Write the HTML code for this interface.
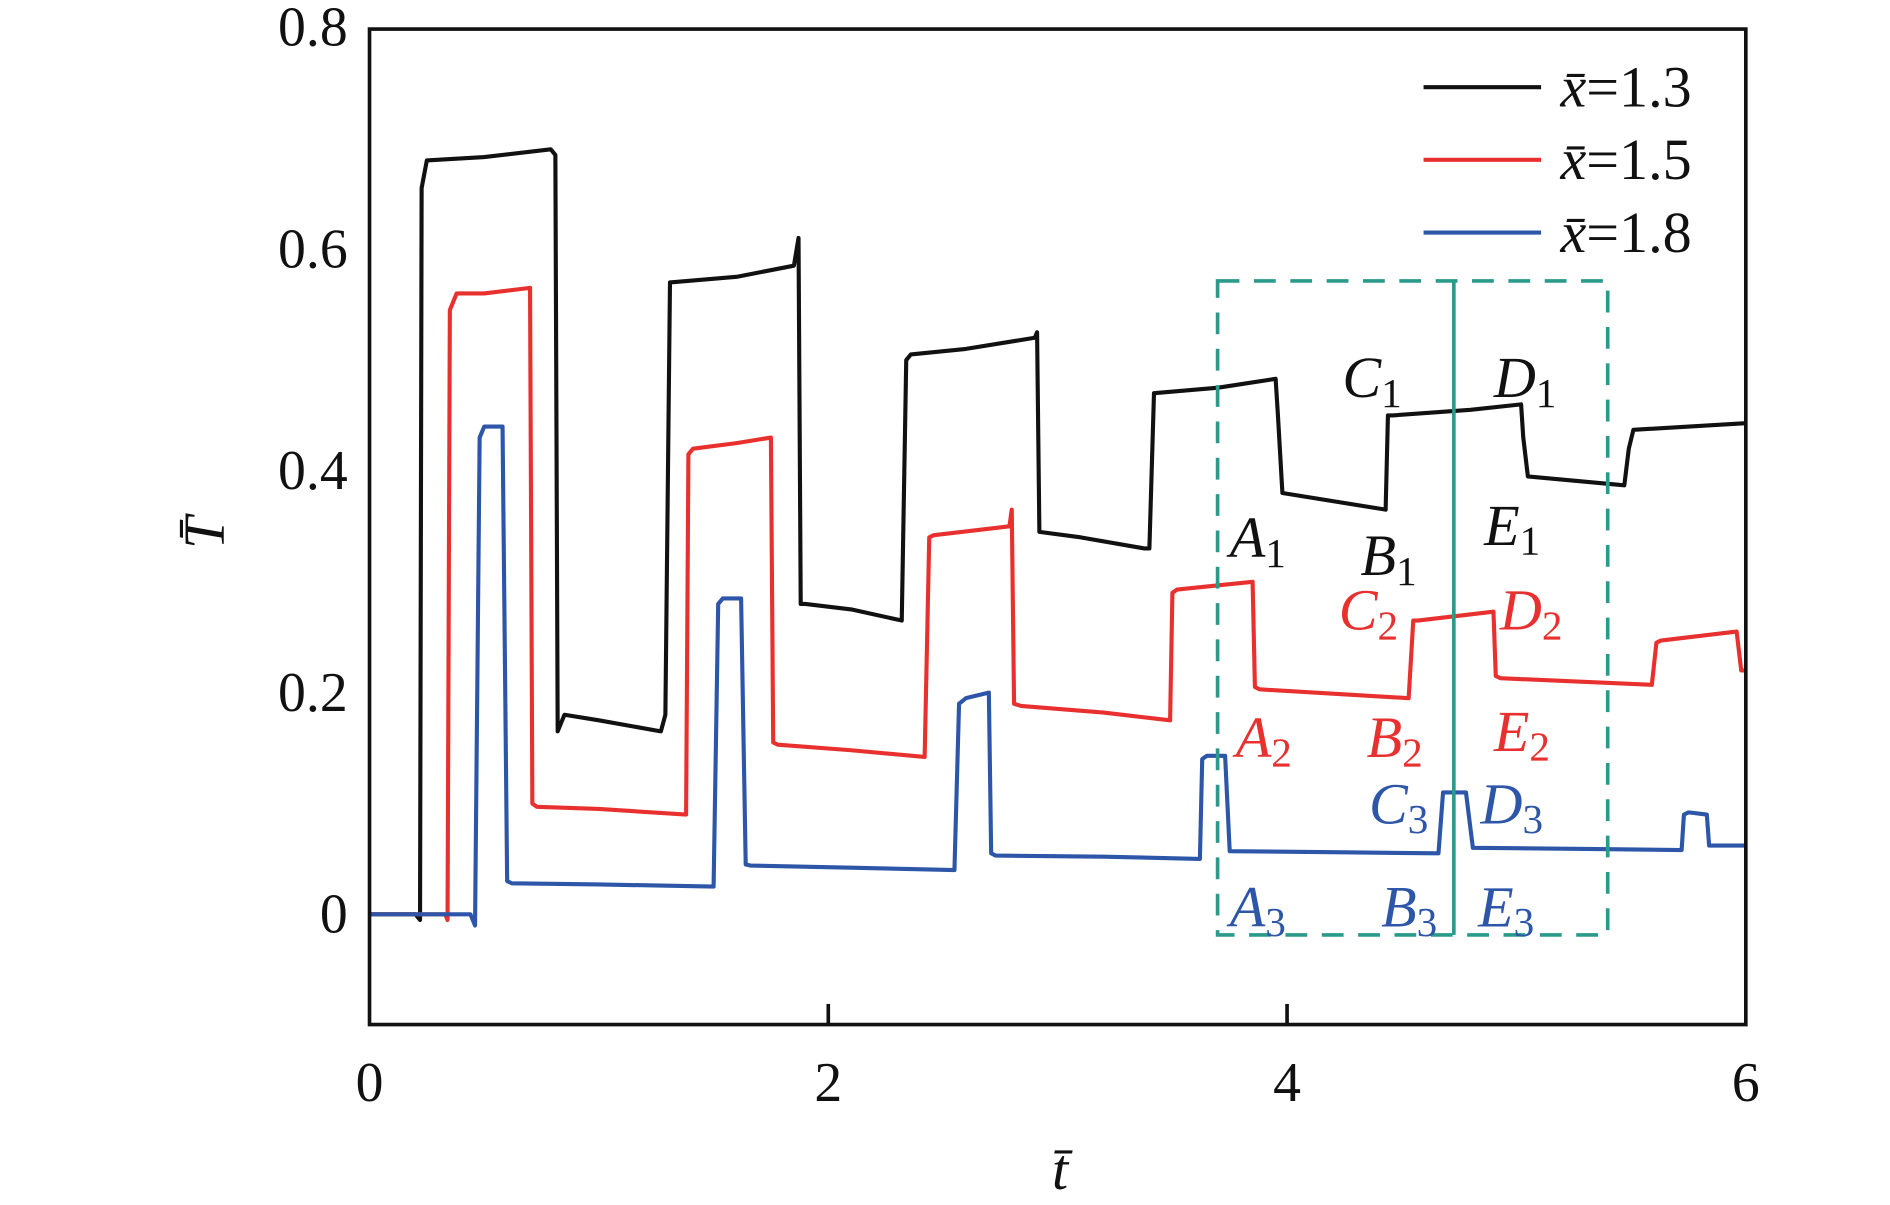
<!DOCTYPE html>
<html><head><meta charset="utf-8"><style>
html,body{margin:0;padding:0;background:#fff;}
svg{display:block;}
text{font-family:"Liberation Serif","Times New Roman",serif;}
</style></head><body>
<svg id="chart" width="1890" height="1205" viewBox="0 0 1560 995" preserveAspectRatio="none" xmlns="http://www.w3.org/2000/svg" font-family="Liberation Serif, serif">
<g id="plot"></g>
</svg>
<script>
const xTicks=[0,2,4,6];
const yTicks=[0,0.2,0.4,0.6,0.8];
const yTickLabels=["0","0.2","0.4","0.6","0.8"];
const seriesNames=["x̄=1.3","x̄=1.5","x̄=1.8"];
const t13=[0,0.2,0.22,0.227,0.25,0.5,0.79,0.81,0.82,0.85,1.0,1.27,1.29,1.31,1.6,1.85,1.87,1.88,1.9,2.1,2.32,2.34,2.36,2.6,2.9,2.91,2.92,3.1,3.38,3.4,3.42,3.7,3.95,3.96,3.98,4.43,4.44,4.46,4.8,5.02,5.03,5.05,5.47,5.49,5.51,6.0];
const v13=[0,0,-0.005,0.655,0.68,0.683,0.69,0.685,0.165,0.18,0.175,0.165,0.18,0.57,0.575,0.585,0.61,0.28,0.28,0.275,0.265,0.5,0.505,0.51,0.52,0.525,0.345,0.34,0.33,0.33,0.47,0.475,0.483,0.45,0.38,0.365,0.45,0.45,0.455,0.46,0.43,0.395,0.387,0.42,0.437,0.443];
const t15=[0,0.33,0.34,0.35,0.38,0.5,0.7,0.71,0.73,1.0,1.38,1.39,1.41,1.6,1.75,1.76,1.78,2.1,2.42,2.44,2.46,2.79,2.8,2.81,2.84,3.2,3.49,3.5,3.52,3.85,3.86,3.88,4.53,4.55,4.57,4.9,4.91,4.93,5.59,5.61,5.63,5.96,5.98,6.0];
const v15=[0,0,-0.005,0.545,0.56,0.56,0.565,0.1,0.097,0.095,0.09,0.415,0.42,0.425,0.43,0.155,0.153,0.148,0.142,0.34,0.342,0.35,0.365,0.19,0.188,0.182,0.175,0.29,0.293,0.3,0.205,0.203,0.195,0.265,0.265,0.273,0.215,0.213,0.207,0.245,0.247,0.255,0.22,0.22];
const t18=[0,0.44,0.46,0.48,0.5,0.58,0.6,0.62,1.0,1.5,1.52,1.54,1.62,1.64,1.66,2.1,2.55,2.57,2.6,2.7,2.71,2.73,3.2,3.62,3.63,3.65,3.73,3.75,4.2,4.66,4.68,4.7,4.78,4.81,5.3,5.72,5.73,5.75,5.83,5.84,6.0];
const v18=[0,0,-0.01,0.43,0.44,0.44,0.03,0.028,0.027,0.025,0.28,0.285,0.285,0.045,0.044,0.042,0.04,0.19,0.195,0.2,0.055,0.053,0.052,0.05,0.14,0.143,0.143,0.057,0.056,0.055,0.11,0.11,0.11,0.06,0.059,0.058,0.09,0.092,0.09,0.062,0.062];
const NS="http://www.w3.org/2000/svg";
const X0=305,X1=1441,Y0=755,YP=915.5;
const FF="Liberation Serif, Times New Roman, serif";
function sx(t){return X0+(X1-X0)*t/6;}
function sy(v){return Y0-v*YP;}
const g=document.getElementById('plot');
function mk(tag,attrs,parent){const e=document.createElementNS(NS,tag);for(const k in attrs)e.setAttribute(k,attrs[k]);if(tag==='text')e.setAttribute('font-family',FF);(parent||g).appendChild(e);return e;}
const colors=["#111111","#e8312f","#2d56a8"];
const T=[t13,t15,t18],V=[v13,v15,v18];
for(let s=0;s<3;s++){
  let d="";for(let i=0;i<T[s].length;i++)d+=(i?"L":"M")+sx(T[s][i]).toFixed(1)+","+sy(V[s][i]).toFixed(1);
  const p=mk('path',{d:d,fill:'none',stroke:colors[s],'stroke-width':3.4,'stroke-linejoin':'round'});
  
  
}
const teal="#2a9a8a";
const box=mk('rect',{x:1005,y:232,width:322,height:540,fill:'none',stroke:teal,'stroke-width':3,'stroke-dasharray':'18,12'});


const vl=mk('line',{x1:1200,y1:232,x2:1200,y2:772,stroke:teal,'stroke-width':3});


const fr=mk('rect',{x:X0,y:24,width:X1-X0,height:822,fill:'none',stroke:'#111','stroke-width':3});


xTicks.forEach(t=>{
  if(t>0&&t<6){const tl=mk('line',{x1:sx(t),y1:846,x2:sx(t),y2:829,stroke:'#111','stroke-width':3});
  
  }
  const tx=mk('text',{x:sx(t),y:909,'font-size':46,'text-anchor':'middle',fill:'#111'});tx.textContent=t;
  
  
});
yTicks.forEach((v,i)=>{
  const tx=mk('text',{x:287,y:sy(v)+15,'font-size':46,'text-anchor':'end',fill:'#111'});tx.textContent=yTickLabels[i];
  
  
});
const xt=mk('text',{x:875,y:982,'font-size':48,'font-style':'italic','text-anchor':'middle',fill:'#111'});xt.textContent='t̄';


const yt=mk('text',{x:0,y:0,'font-size':48,'font-style':'italic','text-anchor':'middle',fill:'#111',transform:'translate(185,440) rotate(-90)'});yt.textContent='T̄';


for(let s=0;s<3;s++){
  const y=72+s*60;
  const ll=mk('line',{x1:1175,y1:y,x2:1272,y2:y,stroke:colors[s],'stroke-width':3.4});
  
  
  const lt=mk('text',{x:1288,y:y+16,'font-size':48,fill:'#111'});
  lt.innerHTML='<tspan font-style="italic">x̄</tspan>'+seriesNames[s].slice(2);
  
  
}
const ann=[["C","1",1108,328,0],["D","1",1233,328,0],["A","1",1015,460,0],["B","1",1123,475,0],["E","1",1225,450,0],
["C","2",1105,520,1],["D","2",1238,520,1],["A","2",1020,625,1],["B","2",1128,625,1],["E","2",1233,620,1],
["C","3",1130,680,2],["D","3",1222,680,2],["A","3",1015,765,2],["B","3",1140,765,2],["E","3",1220,765,2]];
ann.forEach(a=>{
  const t=mk('text',{x:a[2],y:a[3],'font-size':48,fill:colors[a[4]]});
  t.innerHTML='<tspan font-style="italic">'+a[0]+'</tspan><tspan font-size="34" dy="8">'+a[1]+'</tspan>';
  
  
});
</script>
</body></html>
